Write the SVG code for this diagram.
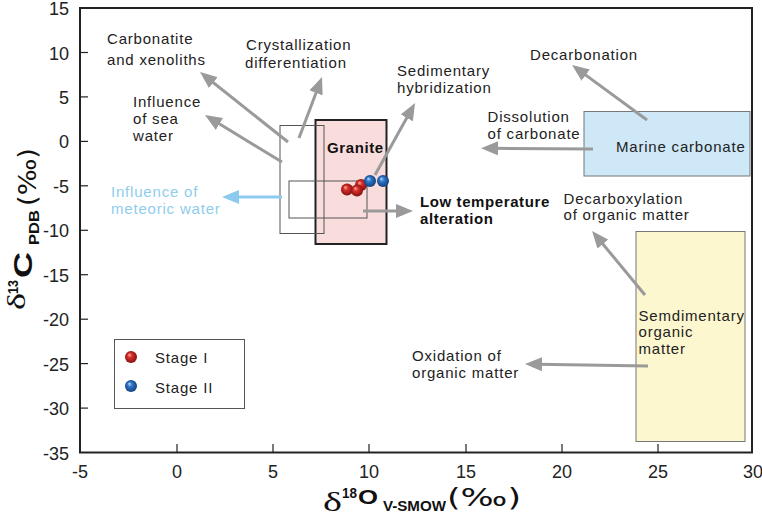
<svg xmlns="http://www.w3.org/2000/svg" width="762" height="521" viewBox="0 0 762 521">
<defs>
<style>
.t{font-family:"Liberation Sans",Arial,sans-serif;font-size:15px;fill:#222;letter-spacing:0.8px}
.tb{font-family:"Liberation Sans",Arial,sans-serif;font-size:15px;font-weight:bold;fill:#111;letter-spacing:0.6px}
.tick{font-family:"Liberation Sans",Arial,sans-serif;font-size:18px;fill:#222}
.ax{font-family:"Liberation Sans",Arial,sans-serif;font-weight:bold;fill:#111}
.pm{font-family:"DejaVu Sans","Liberation Sans",sans-serif;font-weight:normal;fill:#111}
.sy{font-family:"Liberation Serif","Times New Roman",serif;fill:#111}
.thin{fill:none;stroke:#555;stroke-width:1}
.arr{fill:none;stroke:#9a9a9a;stroke-width:3;marker-end:url(#ah)}
.arrb{fill:none;stroke:#8ccbef;stroke-width:3;marker-end:url(#ahb)}
</style>
<marker id="ah" markerUnits="userSpaceOnUse" markerWidth="17" markerHeight="14" refX="5" refY="7" orient="auto">
<path d="M0,0 L17,7 L0,14 z" fill="#9a9a9a"/>
</marker>
<marker id="ahb" markerUnits="userSpaceOnUse" markerWidth="17" markerHeight="14" refX="5" refY="7" orient="auto">
<path d="M0,0 L17,7 L0,14 z" fill="#8ccbef"/>
</marker>
<radialGradient id="red" cx="0.5" cy="0.5" r="0.55" fx="0.35" fy="0.3">
<stop offset="0" stop-color="#ffb0a0"/>
<stop offset="0.35" stop-color="#d8302c"/>
<stop offset="1" stop-color="#7a0c0c"/>
</radialGradient>
<radialGradient id="blue" cx="0.5" cy="0.5" r="0.55" fx="0.35" fy="0.3">
<stop offset="0" stop-color="#b8dcff"/>
<stop offset="0.35" stop-color="#2f78c8"/>
<stop offset="1" stop-color="#0f3a78"/>
</radialGradient>
</defs>
<rect width="762" height="521" fill="#fff"/>

<g id="axes">
<rect x="80" y="8" width="672" height="444.5" fill="none" stroke="#222" stroke-width="2"/>
<g stroke="#222" stroke-width="1.2">
<line x1="80" y1="52.5" x2="88" y2="52.5"/>
<line x1="80" y1="96.9" x2="88" y2="96.9"/>
<line x1="80" y1="141.4" x2="88" y2="141.4"/>
<line x1="80" y1="185.8" x2="88" y2="185.8"/>
<line x1="80" y1="230.3" x2="88" y2="230.3"/>
<line x1="80" y1="274.7" x2="88" y2="274.7"/>
<line x1="80" y1="319.2" x2="88" y2="319.2"/>
<line x1="80" y1="363.6" x2="88" y2="363.6"/>
<line x1="80" y1="408.1" x2="88" y2="408.1"/>
<line x1="177" y1="452" x2="177" y2="444"/>
<line x1="273" y1="452" x2="273" y2="444"/>
<line x1="369" y1="452" x2="369" y2="444"/>
<line x1="466" y1="452" x2="466" y2="444"/>
<line x1="562" y1="452" x2="562" y2="444"/>
<line x1="658" y1="452" x2="658" y2="444"/>
</g>
<g class="tick" text-anchor="end">
<text x="69" y="15">15</text>
<text x="69" y="59.5">10</text>
<text x="69" y="104">5</text>
<text x="69" y="148.4">0</text>
<text x="69" y="192.8">-5</text>
<text x="69" y="237.3">-10</text>
<text x="69" y="281.7">-15</text>
<text x="69" y="326.2">-20</text>
<text x="69" y="370.6">-25</text>
<text x="69" y="415.1">-30</text>
<text x="69" y="459.5">-35</text>
</g>
<g class="tick" text-anchor="middle">
<text x="80" y="478">-5</text>
<text x="177" y="478">0</text>
<text x="273" y="478">5</text>
<text x="369" y="478">10</text>
<text x="466" y="478">15</text>
<text x="562" y="478">20</text>
<text x="658" y="478">25</text>
<text x="753" y="478">30</text>
</g>
<g id="xtitle">
<text class="sy" x="323" y="511" font-size="28" textLength="19" lengthAdjust="spacingAndGlyphs">δ</text>
<text class="ax" x="342" y="498" font-size="14" textLength="15" lengthAdjust="spacingAndGlyphs">18</text>
<text class="ax" x="358" y="504" font-size="21" textLength="20" lengthAdjust="spacingAndGlyphs">O</text>
<text class="ax" x="383" y="511" font-size="14" textLength="63" lengthAdjust="spacingAndGlyphs">V-SMOW</text>
<text class="pm" x="447" y="506" font-size="25" textLength="74" lengthAdjust="spacingAndGlyphs">(‰)</text>
</g>
<g id="ytitle" transform="rotate(-90)">
<text class="sy" x="-310" y="25" font-size="26" textLength="17" lengthAdjust="spacingAndGlyphs">δ</text>
<text class="ax" x="-294" y="18" font-size="14" textLength="14" lengthAdjust="spacingAndGlyphs">13</text>
<text class="ax" x="-278" y="32" font-size="25" textLength="26" lengthAdjust="spacingAndGlyphs">C</text>
<text class="ax" x="-245" y="39" font-size="14" textLength="35" lengthAdjust="spacingAndGlyphs">PDB</text>
<text class="pm" x="-206" y="36" font-size="24" textLength="58" lengthAdjust="spacingAndGlyphs">(‰)</text>
</g>
</g>

<g id="node-marine">
<rect x="584" y="111.5" width="166" height="64.5" fill="#cfe8f7" stroke="#777" stroke-width="1"/>
<text class="t" x="616" y="152">Marine carbonate</text>
</g>
<g id="node-organic">
<rect x="636" y="231.5" width="109" height="210" fill="#fcf7cf" stroke="#777" stroke-width="1"/>
<text class="t" x="638.5" y="321">Semdimentary</text>
<text class="t" x="638.5" y="337">organic</text>
<text class="t" x="638.5" y="353.5">matter</text>
</g>
<g id="node-granite">
<rect x="315.5" y="120" width="71" height="124" fill="#f9dcdc" stroke="#222" stroke-width="2"/>
<text class="tb" x="327" y="153" font-size="16" letter-spacing="0.3">Granite</text>
</g>
<g id="node-fields">
<rect class="thin" x="280" y="125.5" width="44" height="108"/>
<rect class="thin" x="289" y="181" width="78" height="37"/>
</g>

<g id="connectors">
<line class="arr" x1="288" y1="142" x2="209.4" y2="79.5"/>
<line class="arr" x1="282" y1="162" x2="215.2" y2="121.3"/>
<line class="arr" x1="299" y1="138" x2="317.8" y2="88.2"/>
<line class="arrb" x1="282" y1="197" x2="234" y2="197"/>
<line class="arr" x1="375" y1="175" x2="409.2" y2="113.5"/>
<line class="arr" x1="363" y1="211" x2="401" y2="211"/>
<line class="arr" x1="647" y1="120" x2="581.7" y2="72.1"/>
<line class="arr" x1="593" y1="149" x2="493" y2="148.3"/>
<line class="arr" x1="645" y1="295" x2="599.7" y2="240.2"/>
<line class="arr" x1="648" y1="366" x2="537" y2="364.2"/>
</g>

<g id="data">
<circle cx="361" cy="185" r="6" fill="url(#red)"/>
<circle cx="347" cy="189.5" r="6" fill="url(#red)"/>
<circle cx="357" cy="190.5" r="6" fill="url(#red)"/>
<circle cx="370" cy="181" r="6" fill="url(#blue)"/>
<circle cx="383" cy="181" r="6" fill="url(#blue)"/>
</g>

<g id="labels">
<text class="t" x="107" y="43.5">Carbonatite</text>
<text class="t" x="107" y="65">and xenoliths</text>
<text class="t" x="246" y="49.5">Crystallization</text>
<text class="t" x="245" y="68">differentiation</text>
<text class="t" x="133" y="107">Influence</text>
<text class="t" x="133" y="124">of sea</text>
<text class="t" x="133" y="140.5">water</text>
<text class="t" x="111" y="197" style="fill:#8fcdee">Influence of</text>
<text class="t" x="111" y="213.5" style="fill:#8fcdee">meteoric water</text>
<text class="t" x="397" y="76">Sedimentary</text>
<text class="t" x="397" y="92.5">hybridization</text>
<text class="t" x="530" y="59.5">Decarbonation</text>
<text class="t" x="487.5" y="121.5">Dissolution</text>
<text class="t" x="487.5" y="138.5">of carbonate</text>
<text class="tb" x="420" y="207">Low temperature</text>
<text class="tb" x="420" y="223.5">alteration</text>
<text class="t" x="563.5" y="203.5">Decarboxylation</text>
<text class="t" x="563.5" y="220">of organic matter</text>
<text class="t" x="412" y="361">Oxidation of</text>
<text class="t" x="412" y="377.5">organic matter</text>
</g>

<g id="legend">
<rect class="thin" x="114.5" y="339.5" width="130" height="69" fill="#fff"/>
<circle cx="131" cy="357" r="6" fill="url(#red)"/>
<circle cx="131" cy="386" r="6" fill="url(#blue)"/>
<text class="t" x="155" y="363">Stage  I</text>
<text class="t" x="155" y="393">Stage  II</text>
</g>
</svg>
